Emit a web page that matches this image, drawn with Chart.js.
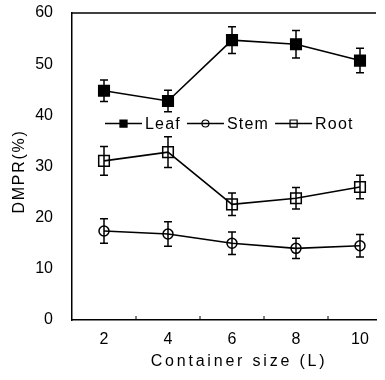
<!DOCTYPE html>
<html>
<head>
<meta charset="utf-8">
<script src="https://cdn.jsdelivr.net/npm/chart.js@4.4.1/dist/chart.umd.min.js"></script>
<style>
  html, body { margin: 0; padding: 0; background: #fff; }
  #wrap { width: 385px; height: 380px; }
</style>
</head>
<body>
<div id="wrap"><canvas id="chart" width="385" height="380"></canvas></div>
<script>
// ─── DONNÉES ─────────────────────────────────────────────────────────────
const sizes   = [2, 4, 6, 8, 10];
const leaf    = [44.8, 42.8, 54.7, 53.9, 50.7];
const leafErr = [2.1, 2.1, 2.6, 2.7, 2.4];
const stem    = [17.4, 16.8, 15.0, 14.0, 14.5];
const stemErr = [2.4, 2.4, 2.2, 2.0, 2.2];
const root    = [31.1, 32.8, 22.6, 23.8, 26.0];
const rootErr = [2.8, 3.0, 2.2, 2.1, 2.3];
const xTitle = 'Container size (L)';
const yTitle = 'DMPR(%)';

const FONT = "'Liberation Sans', Arial, Helvetica, sans-serif";

const pts = vals => sizes.map((s, i) => ({ x: s, y: vals[i] }));

// ─── PLUGINS ─────────────────────────────────────────────────────────────
const errorBars = {
    id: 'errorBars',
    beforeDatasetsDraw(chart) {
        const { ctx, scales: { x, y } } = chart;
        ctx.save();
        ctx.strokeStyle = '#000';
        ctx.lineWidth = 1.5;
        chart.data.datasets.forEach(ds => {
            ds.data.forEach((p, j) => {
                const e = ds.errors[j];
                const px = x.getPixelForValue(p.x);
                const t = y.getPixelForValue(p.y + e);
                const b = y.getPixelForValue(p.y - e);
                ctx.beginPath();
                ctx.moveTo(px, t); ctx.lineTo(px, b);
                ctx.moveTo(px - 4, t); ctx.lineTo(px + 4, t);
                ctx.moveTo(px - 4, b); ctx.lineTo(px + 4, b);
                ctx.stroke();
            });
        });
        ctx.restore();
    }
};

const frame = {
    id: 'frame',
    afterDraw(chart) {
        const { ctx, chartArea: a, scales: { x, y } } = chart;
        ctx.save();
        ctx.strokeStyle = '#000';
        ctx.lineWidth = 1.5;
        // ligne du haut
        ctx.beginPath();
        ctx.moveTo(a.left, a.top); ctx.lineTo(a.right, a.top);
        ctx.stroke();
        // petites graduations vers l'intérieur entre les catégories
        ctx.lineWidth = 1;
        for (let v = 3; v < 10; v += 2) {
            const px = x.getPixelForValue(v);
            ctx.beginPath();
            ctx.moveTo(px, a.bottom); ctx.lineTo(px, a.bottom - 4);
            ctx.stroke();
        }

        // titres des axes
        ctx.fillStyle = '#000';
        ctx.font = '16px ' + FONT;
        ctx.textAlign = 'center';
        ctx.textBaseline = 'middle';
        ctx.letterSpacing = '2.8px';
        ctx.fillText(xTitle, (a.left + a.right) / 2 + 15, 362);

        ctx.letterSpacing = '1.7px';
        ctx.translate(20, (a.top + a.bottom) / 2 + 5);
        ctx.rotate(-Math.PI / 2);
        ctx.fillText(yTitle, 0, 0);
        ctx.restore();

        // légende dans le graphique
        ctx.save();
        ctx.font = '16px ' + FONT;
        ctx.letterSpacing = '1.2px';
        ctx.textBaseline = 'middle';
        ctx.textAlign = 'left';
        ctx.fillStyle = '#000';
        ctx.strokeStyle = '#000';
        let lx = 105;
        const ly = y.getPixelForValue(38.4);
        chart.data.datasets.forEach(ds => {
            ctx.lineWidth = 1.5;
            ctx.beginPath();
            ctx.moveTo(lx, ly); ctx.lineTo(lx + 37, ly);
            ctx.stroke();
            ctx.fillStyle = ds.pointBackgroundColor;
            ctx.lineWidth = 1.2;
            Chart.helpers.drawPoint(ctx, {
                pointStyle: ds.pointStyle,
                radius: ds.legendRadius,
                rotation: 0,
                borderWidth: 1.2
            }, lx + 18.5, ly);
            ctx.fillStyle = '#000';
            ctx.fillText(ds.label, lx + 40, ly + 1);
            lx += 40 + ctx.measureText(ds.label).width + 6;
        });
        ctx.restore();
    }
};

// ─── GRAPHIQUE ───────────────────────────────────────────────────────────
const base = {
    borderColor: '#000',
    borderWidth: 1.6,
    pointBorderColor: '#000',
    pointBorderWidth: 1.5,
    tension: 0
};

new Chart(document.getElementById('chart').getContext('2d'), {
    type: 'line',
    data: {
        datasets: [
            { ...base, label: 'Leaf', data: pts(leaf), errors: leafErr,
              pointStyle: 'rect', pointRadius: 7.5, legendRadius: 5,
              pointBackgroundColor: '#000' },
            { ...base, label: 'Stem', data: pts(stem), errors: stemErr,
              pointStyle: 'circle', pointRadius: 5, legendRadius: 3.5,
              pointBackgroundColor: 'rgba(0,0,0,0)' },
            { ...base, label: 'Root', data: pts(root), errors: rootErr,
              pointStyle: 'rect', pointRadius: 7.5, legendRadius: 5,
              pointBackgroundColor: 'rgba(0,0,0,0)' }
        ]
    },
    options: {
        responsive: false,
        devicePixelRatio: 1,
        animation: false,
        layout: { padding: 0 },
        plugins: {
            legend: { display: false },
            tooltip: { enabled: false }
        },
        scales: {
            x: {
                type: 'linear',
                min: 1,
                max: 10.5,
                afterBuildTicks: s => { s.ticks = sizes.map(v => ({ value: v })); },
                afterFit: s => { s.height = 60; s.paddingRight = 5; },
                grid: { display: false, drawTicks: false },
                border: { display: true, color: '#000', width: 1.5 },
                ticks: {
                    padding: 10,
                    color: '#000',
                    font: { size: 16, family: FONT },
                    callback: v => String(v)
                }
            },
            y: {
                min: 0,
                max: 60,
                afterFit: s => { s.width = 72; s.paddingTop = 13; s.paddingBottom = 0; },
                grid: { display: false, drawTicks: false },
                border: { display: true, color: '#000', width: 1.5 },
                ticks: {
                    stepSize: 10,
                    padding: 19,
                    color: '#000',
                    font: { size: 16, family: FONT }
                }
            }
        }
    },
    plugins: [errorBars, frame]
});
</script>
</body>
</html>
